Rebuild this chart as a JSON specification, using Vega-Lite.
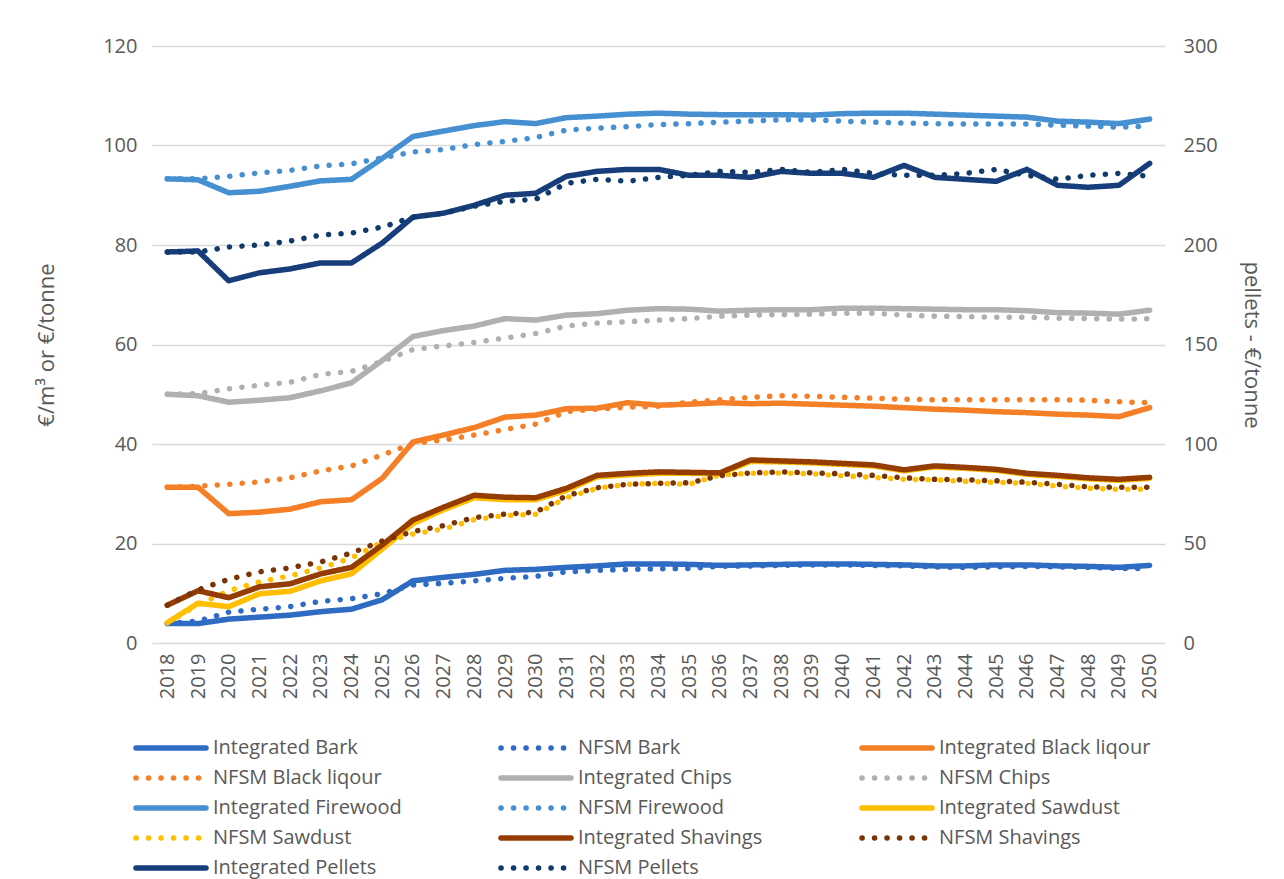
{
  "$schema": "https://vega.github.io/schema/vega-lite/v6.json",
  "autosize": {"type": "none"},
  "width": 1013,
  "height": 597,
  "padding": {"left": 152, "top": 46, "right": 119, "bottom": 236},
  "background": "white",
  "config": {"font": "Open Sans", "view": {"stroke": null}},
  "datasets": {
    "prices": [
      {"year":2018,"series":"Integrated Bark","value":3.9},{"year":2019,"series":"Integrated Bark","value":3.9},{"year":2020,"series":"Integrated Bark","value":4.8},{"year":2021,"series":"Integrated Bark","value":5.2},{"year":2022,"series":"Integrated Bark","value":5.6},{"year":2023,"series":"Integrated Bark","value":6.3},{"year":2024,"series":"Integrated Bark","value":6.8},{"year":2025,"series":"Integrated Bark","value":8.7},{"year":2026,"series":"Integrated Bark","value":12.5},{"year":2027,"series":"Integrated Bark","value":13.2},{"year":2028,"series":"Integrated Bark","value":13.8},{"year":2029,"series":"Integrated Bark","value":14.6},{"year":2030,"series":"Integrated Bark","value":14.8},{"year":2031,"series":"Integrated Bark","value":15.2},{"year":2032,"series":"Integrated Bark","value":15.5},{"year":2033,"series":"Integrated Bark","value":15.9},{"year":2034,"series":"Integrated Bark","value":15.9},{"year":2035,"series":"Integrated Bark","value":15.8},{"year":2036,"series":"Integrated Bark","value":15.6},{"year":2037,"series":"Integrated Bark","value":15.7},{"year":2038,"series":"Integrated Bark","value":15.8},{"year":2039,"series":"Integrated Bark","value":15.9},{"year":2040,"series":"Integrated Bark","value":15.9},{"year":2041,"series":"Integrated Bark","value":15.8},{"year":2042,"series":"Integrated Bark","value":15.7},{"year":2043,"series":"Integrated Bark","value":15.5},{"year":2044,"series":"Integrated Bark","value":15.5},{"year":2045,"series":"Integrated Bark","value":15.7},{"year":2046,"series":"Integrated Bark","value":15.7},{"year":2047,"series":"Integrated Bark","value":15.5},{"year":2048,"series":"Integrated Bark","value":15.4},{"year":2049,"series":"Integrated Bark","value":15.2},{"year":2050,"series":"Integrated Bark","value":15.6},
      {"year":2018,"series":"NFSM Bark","value":3.9},{"year":2019,"series":"NFSM Bark","value":4.4},{"year":2020,"series":"NFSM Bark","value":6.2},{"year":2021,"series":"NFSM Bark","value":6.8},{"year":2022,"series":"NFSM Bark","value":7.3},{"year":2023,"series":"NFSM Bark","value":8.4},{"year":2024,"series":"NFSM Bark","value":8.9},{"year":2025,"series":"NFSM Bark","value":9.9},{"year":2026,"series":"NFSM Bark","value":11.7},{"year":2027,"series":"NFSM Bark","value":12.0},{"year":2028,"series":"NFSM Bark","value":12.5},{"year":2029,"series":"NFSM Bark","value":13.0},{"year":2030,"series":"NFSM Bark","value":13.4},{"year":2031,"series":"NFSM Bark","value":14.3},{"year":2032,"series":"NFSM Bark","value":14.6},{"year":2033,"series":"NFSM Bark","value":14.8},{"year":2034,"series":"NFSM Bark","value":14.9},{"year":2035,"series":"NFSM Bark","value":15.0},{"year":2036,"series":"NFSM Bark","value":15.4},{"year":2037,"series":"NFSM Bark","value":15.5},{"year":2038,"series":"NFSM Bark","value":15.6},{"year":2039,"series":"NFSM Bark","value":15.7},{"year":2040,"series":"NFSM Bark","value":15.7},{"year":2041,"series":"NFSM Bark","value":15.6},{"year":2042,"series":"NFSM Bark","value":15.5},{"year":2043,"series":"NFSM Bark","value":15.3},{"year":2044,"series":"NFSM Bark","value":15.2},{"year":2045,"series":"NFSM Bark","value":15.3},{"year":2046,"series":"NFSM Bark","value":15.4},{"year":2047,"series":"NFSM Bark","value":15.3},{"year":2048,"series":"NFSM Bark","value":15.2},{"year":2049,"series":"NFSM Bark","value":15.0},{"year":2050,"series":"NFSM Bark","value":15.0},
      {"year":2018,"series":"Integrated Black liqour","value":31.3},{"year":2019,"series":"Integrated Black liqour","value":31.3},{"year":2020,"series":"Integrated Black liqour","value":26.0},{"year":2021,"series":"Integrated Black liqour","value":26.3},{"year":2022,"series":"Integrated Black liqour","value":26.9},{"year":2023,"series":"Integrated Black liqour","value":28.4},{"year":2024,"series":"Integrated Black liqour","value":28.8},{"year":2025,"series":"Integrated Black liqour","value":33.1},{"year":2026,"series":"Integrated Black liqour","value":40.4},{"year":2027,"series":"Integrated Black liqour","value":41.8},{"year":2028,"series":"Integrated Black liqour","value":43.3},{"year":2029,"series":"Integrated Black liqour","value":45.4},{"year":2030,"series":"Integrated Black liqour","value":45.8},{"year":2031,"series":"Integrated Black liqour","value":47.1},{"year":2032,"series":"Integrated Black liqour","value":47.2},{"year":2033,"series":"Integrated Black liqour","value":48.3},{"year":2034,"series":"Integrated Black liqour","value":47.8},{"year":2035,"series":"Integrated Black liqour","value":48.0},{"year":2036,"series":"Integrated Black liqour","value":48.3},{"year":2037,"series":"Integrated Black liqour","value":48.1},{"year":2038,"series":"Integrated Black liqour","value":48.2},{"year":2039,"series":"Integrated Black liqour","value":48.0},{"year":2040,"series":"Integrated Black liqour","value":47.8},{"year":2041,"series":"Integrated Black liqour","value":47.6},{"year":2042,"series":"Integrated Black liqour","value":47.3},{"year":2043,"series":"Integrated Black liqour","value":47.0},{"year":2044,"series":"Integrated Black liqour","value":46.8},{"year":2045,"series":"Integrated Black liqour","value":46.5},{"year":2046,"series":"Integrated Black liqour","value":46.3},{"year":2047,"series":"Integrated Black liqour","value":46.0},{"year":2048,"series":"Integrated Black liqour","value":45.8},{"year":2049,"series":"Integrated Black liqour","value":45.5},{"year":2050,"series":"Integrated Black liqour","value":47.3},
      {"year":2018,"series":"NFSM Black liqour","value":31.3},{"year":2019,"series":"NFSM Black liqour","value":31.5},{"year":2020,"series":"NFSM Black liqour","value":31.9},{"year":2021,"series":"NFSM Black liqour","value":32.4},{"year":2022,"series":"NFSM Black liqour","value":33.2},{"year":2023,"series":"NFSM Black liqour","value":34.6},{"year":2024,"series":"NFSM Black liqour","value":35.6},{"year":2025,"series":"NFSM Black liqour","value":37.8},{"year":2026,"series":"NFSM Black liqour","value":40.1},{"year":2027,"series":"NFSM Black liqour","value":40.8},{"year":2028,"series":"NFSM Black liqour","value":41.8},{"year":2029,"series":"NFSM Black liqour","value":42.9},{"year":2030,"series":"NFSM Black liqour","value":44.0},{"year":2031,"series":"NFSM Black liqour","value":46.5},{"year":2032,"series":"NFSM Black liqour","value":47.0},{"year":2033,"series":"NFSM Black liqour","value":47.4},{"year":2034,"series":"NFSM Black liqour","value":47.6},{"year":2035,"series":"NFSM Black liqour","value":48.4},{"year":2036,"series":"NFSM Black liqour","value":48.9},{"year":2037,"series":"NFSM Black liqour","value":49.4},{"year":2038,"series":"NFSM Black liqour","value":49.7},{"year":2039,"series":"NFSM Black liqour","value":49.6},{"year":2040,"series":"NFSM Black liqour","value":49.4},{"year":2041,"series":"NFSM Black liqour","value":49.2},{"year":2042,"series":"NFSM Black liqour","value":49.0},{"year":2043,"series":"NFSM Black liqour","value":48.9},{"year":2044,"series":"NFSM Black liqour","value":48.9},{"year":2045,"series":"NFSM Black liqour","value":48.9},{"year":2046,"series":"NFSM Black liqour","value":48.9},{"year":2047,"series":"NFSM Black liqour","value":48.9},{"year":2048,"series":"NFSM Black liqour","value":48.8},{"year":2049,"series":"NFSM Black liqour","value":48.5},{"year":2050,"series":"NFSM Black liqour","value":48.3},
      {"year":2018,"series":"Integrated Chips","value":50.0},{"year":2019,"series":"Integrated Chips","value":49.7},{"year":2020,"series":"Integrated Chips","value":48.4},{"year":2021,"series":"Integrated Chips","value":48.8},{"year":2022,"series":"Integrated Chips","value":49.3},{"year":2023,"series":"Integrated Chips","value":50.7},{"year":2024,"series":"Integrated Chips","value":52.3},{"year":2025,"series":"Integrated Chips","value":56.8},{"year":2026,"series":"Integrated Chips","value":61.6},{"year":2027,"series":"Integrated Chips","value":62.8},{"year":2028,"series":"Integrated Chips","value":63.7},{"year":2029,"series":"Integrated Chips","value":65.2},{"year":2030,"series":"Integrated Chips","value":64.9},{"year":2031,"series":"Integrated Chips","value":65.9},{"year":2032,"series":"Integrated Chips","value":66.2},{"year":2033,"series":"Integrated Chips","value":66.9},{"year":2034,"series":"Integrated Chips","value":67.2},{"year":2035,"series":"Integrated Chips","value":67.1},{"year":2036,"series":"Integrated Chips","value":66.7},{"year":2037,"series":"Integrated Chips","value":66.9},{"year":2038,"series":"Integrated Chips","value":67.0},{"year":2039,"series":"Integrated Chips","value":67.0},{"year":2040,"series":"Integrated Chips","value":67.3},{"year":2041,"series":"Integrated Chips","value":67.3},{"year":2042,"series":"Integrated Chips","value":67.2},{"year":2043,"series":"Integrated Chips","value":67.1},{"year":2044,"series":"Integrated Chips","value":67.0},{"year":2045,"series":"Integrated Chips","value":67.0},{"year":2046,"series":"Integrated Chips","value":66.8},{"year":2047,"series":"Integrated Chips","value":66.4},{"year":2048,"series":"Integrated Chips","value":66.3},{"year":2049,"series":"Integrated Chips","value":66.1},{"year":2050,"series":"Integrated Chips","value":66.9},
      {"year":2018,"series":"NFSM Chips","value":50.0},{"year":2019,"series":"NFSM Chips","value":50.1},{"year":2020,"series":"NFSM Chips","value":51.1},{"year":2021,"series":"NFSM Chips","value":51.8},{"year":2022,"series":"NFSM Chips","value":52.4},{"year":2023,"series":"NFSM Chips","value":54.0},{"year":2024,"series":"NFSM Chips","value":54.6},{"year":2025,"series":"NFSM Chips","value":56.6},{"year":2026,"series":"NFSM Chips","value":59.0},{"year":2027,"series":"NFSM Chips","value":59.7},{"year":2028,"series":"NFSM Chips","value":60.4},{"year":2029,"series":"NFSM Chips","value":61.3},{"year":2030,"series":"NFSM Chips","value":62.2},{"year":2031,"series":"NFSM Chips","value":63.7},{"year":2032,"series":"NFSM Chips","value":64.3},{"year":2033,"series":"NFSM Chips","value":64.6},{"year":2034,"series":"NFSM Chips","value":64.9},{"year":2035,"series":"NFSM Chips","value":65.2},{"year":2036,"series":"NFSM Chips","value":65.7},{"year":2037,"series":"NFSM Chips","value":65.9},{"year":2038,"series":"NFSM Chips","value":66.0},{"year":2039,"series":"NFSM Chips","value":66.1},{"year":2040,"series":"NFSM Chips","value":66.3},{"year":2041,"series":"NFSM Chips","value":66.3},{"year":2042,"series":"NFSM Chips","value":65.9},{"year":2043,"series":"NFSM Chips","value":65.7},{"year":2044,"series":"NFSM Chips","value":65.6},{"year":2045,"series":"NFSM Chips","value":65.5},{"year":2046,"series":"NFSM Chips","value":65.5},{"year":2047,"series":"NFSM Chips","value":65.3},{"year":2048,"series":"NFSM Chips","value":65.2},{"year":2049,"series":"NFSM Chips","value":65.1},{"year":2050,"series":"NFSM Chips","value":65.2},
      {"year":2018,"series":"Integrated Firewood","value":93.3},{"year":2019,"series":"Integrated Firewood","value":93.1},{"year":2020,"series":"Integrated Firewood","value":90.5},{"year":2021,"series":"Integrated Firewood","value":90.8},{"year":2022,"series":"Integrated Firewood","value":91.8},{"year":2023,"series":"Integrated Firewood","value":92.9},{"year":2024,"series":"Integrated Firewood","value":93.2},{"year":2025,"series":"Integrated Firewood","value":97.4},{"year":2026,"series":"Integrated Firewood","value":101.8},{"year":2027,"series":"Integrated Firewood","value":102.9},{"year":2028,"series":"Integrated Firewood","value":104.0},{"year":2029,"series":"Integrated Firewood","value":104.8},{"year":2030,"series":"Integrated Firewood","value":104.4},{"year":2031,"series":"Integrated Firewood","value":105.6},{"year":2032,"series":"Integrated Firewood","value":105.9},{"year":2033,"series":"Integrated Firewood","value":106.3},{"year":2034,"series":"Integrated Firewood","value":106.5},{"year":2035,"series":"Integrated Firewood","value":106.3},{"year":2036,"series":"Integrated Firewood","value":106.2},{"year":2037,"series":"Integrated Firewood","value":106.2},{"year":2038,"series":"Integrated Firewood","value":106.2},{"year":2039,"series":"Integrated Firewood","value":106.1},{"year":2040,"series":"Integrated Firewood","value":106.4},{"year":2041,"series":"Integrated Firewood","value":106.5},{"year":2042,"series":"Integrated Firewood","value":106.5},{"year":2043,"series":"Integrated Firewood","value":106.3},{"year":2044,"series":"Integrated Firewood","value":106.1},{"year":2045,"series":"Integrated Firewood","value":105.9},{"year":2046,"series":"Integrated Firewood","value":105.7},{"year":2047,"series":"Integrated Firewood","value":104.9},{"year":2048,"series":"Integrated Firewood","value":104.7},{"year":2049,"series":"Integrated Firewood","value":104.4},{"year":2050,"series":"Integrated Firewood","value":105.3},
      {"year":2018,"series":"NFSM Firewood","value":93.3},{"year":2019,"series":"NFSM Firewood","value":93.3},{"year":2020,"series":"NFSM Firewood","value":93.8},{"year":2021,"series":"NFSM Firewood","value":94.5},{"year":2022,"series":"NFSM Firewood","value":95.0},{"year":2023,"series":"NFSM Firewood","value":95.9},{"year":2024,"series":"NFSM Firewood","value":96.3},{"year":2025,"series":"NFSM Firewood","value":97.5},{"year":2026,"series":"NFSM Firewood","value":98.7},{"year":2027,"series":"NFSM Firewood","value":99.2},{"year":2028,"series":"NFSM Firewood","value":100.2},{"year":2029,"series":"NFSM Firewood","value":100.8},{"year":2030,"series":"NFSM Firewood","value":101.6},{"year":2031,"series":"NFSM Firewood","value":103.1},{"year":2032,"series":"NFSM Firewood","value":103.5},{"year":2033,"series":"NFSM Firewood","value":103.8},{"year":2034,"series":"NFSM Firewood","value":104.2},{"year":2035,"series":"NFSM Firewood","value":104.4},{"year":2036,"series":"NFSM Firewood","value":104.7},{"year":2037,"series":"NFSM Firewood","value":104.9},{"year":2038,"series":"NFSM Firewood","value":105.2},{"year":2039,"series":"NFSM Firewood","value":105.2},{"year":2040,"series":"NFSM Firewood","value":104.9},{"year":2041,"series":"NFSM Firewood","value":104.7},{"year":2042,"series":"NFSM Firewood","value":104.5},{"year":2043,"series":"NFSM Firewood","value":104.4},{"year":2044,"series":"NFSM Firewood","value":104.3},{"year":2045,"series":"NFSM Firewood","value":104.3},{"year":2046,"series":"NFSM Firewood","value":104.3},{"year":2047,"series":"NFSM Firewood","value":104.1},{"year":2048,"series":"NFSM Firewood","value":103.9},{"year":2049,"series":"NFSM Firewood","value":103.7},{"year":2050,"series":"NFSM Firewood","value":103.9},
      {"year":2018,"series":"Integrated Sawdust","value":4.1},{"year":2019,"series":"Integrated Sawdust","value":8.0},{"year":2020,"series":"Integrated Sawdust","value":7.3},{"year":2021,"series":"Integrated Sawdust","value":9.9},{"year":2022,"series":"Integrated Sawdust","value":10.4},{"year":2023,"series":"Integrated Sawdust","value":12.5},{"year":2024,"series":"Integrated Sawdust","value":13.9},{"year":2025,"series":"Integrated Sawdust","value":18.9},{"year":2026,"series":"Integrated Sawdust","value":24.0},{"year":2027,"series":"Integrated Sawdust","value":26.8},{"year":2028,"series":"Integrated Sawdust","value":29.2},{"year":2029,"series":"Integrated Sawdust","value":28.8},{"year":2030,"series":"Integrated Sawdust","value":28.8},{"year":2031,"series":"Integrated Sawdust","value":30.7},{"year":2032,"series":"Integrated Sawdust","value":33.4},{"year":2033,"series":"Integrated Sawdust","value":33.8},{"year":2034,"series":"Integrated Sawdust","value":34.1},{"year":2035,"series":"Integrated Sawdust","value":34.1},{"year":2036,"series":"Integrated Sawdust","value":34.0},{"year":2037,"series":"Integrated Sawdust","value":36.5},{"year":2038,"series":"Integrated Sawdust","value":36.4},{"year":2039,"series":"Integrated Sawdust","value":36.2},{"year":2040,"series":"Integrated Sawdust","value":35.9},{"year":2041,"series":"Integrated Sawdust","value":35.6},{"year":2042,"series":"Integrated Sawdust","value":34.6},{"year":2043,"series":"Integrated Sawdust","value":35.4},{"year":2044,"series":"Integrated Sawdust","value":35.1},{"year":2045,"series":"Integrated Sawdust","value":34.7},{"year":2046,"series":"Integrated Sawdust","value":33.9},{"year":2047,"series":"Integrated Sawdust","value":33.5},{"year":2048,"series":"Integrated Sawdust","value":33.0},{"year":2049,"series":"Integrated Sawdust","value":32.7},{"year":2050,"series":"Integrated Sawdust","value":33.1},
      {"year":2018,"series":"NFSM Sawdust","value":4.1},{"year":2019,"series":"NFSM Sawdust","value":7.7},{"year":2020,"series":"NFSM Sawdust","value":10.5},{"year":2021,"series":"NFSM Sawdust","value":12.3},{"year":2022,"series":"NFSM Sawdust","value":13.5},{"year":2023,"series":"NFSM Sawdust","value":15.1},{"year":2024,"series":"NFSM Sawdust","value":17.1},{"year":2025,"series":"NFSM Sawdust","value":20.3},{"year":2026,"series":"NFSM Sawdust","value":21.9},{"year":2027,"series":"NFSM Sawdust","value":22.9},{"year":2028,"series":"NFSM Sawdust","value":24.8},{"year":2029,"series":"NFSM Sawdust","value":25.6},{"year":2030,"series":"NFSM Sawdust","value":25.9},{"year":2031,"series":"NFSM Sawdust","value":29.2},{"year":2032,"series":"NFSM Sawdust","value":31.1},{"year":2033,"series":"NFSM Sawdust","value":31.9},{"year":2034,"series":"NFSM Sawdust","value":32.1},{"year":2035,"series":"NFSM Sawdust","value":31.9},{"year":2036,"series":"NFSM Sawdust","value":33.8},{"year":2037,"series":"NFSM Sawdust","value":34.1},{"year":2038,"series":"NFSM Sawdust","value":34.2},{"year":2039,"series":"NFSM Sawdust","value":34.0},{"year":2040,"series":"NFSM Sawdust","value":33.6},{"year":2041,"series":"NFSM Sawdust","value":33.3},{"year":2042,"series":"NFSM Sawdust","value":32.9},{"year":2043,"series":"NFSM Sawdust","value":32.8},{"year":2044,"series":"NFSM Sawdust","value":32.5},{"year":2045,"series":"NFSM Sawdust","value":32.3},{"year":2046,"series":"NFSM Sawdust","value":32.1},{"year":2047,"series":"NFSM Sawdust","value":31.5},{"year":2048,"series":"NFSM Sawdust","value":31.1},{"year":2049,"series":"NFSM Sawdust","value":30.9},{"year":2050,"series":"NFSM Sawdust","value":30.9},
      {"year":2018,"series":"Integrated Shavings","value":7.6},{"year":2019,"series":"Integrated Shavings","value":10.5},{"year":2020,"series":"Integrated Shavings","value":9.1},{"year":2021,"series":"Integrated Shavings","value":11.3},{"year":2022,"series":"Integrated Shavings","value":11.9},{"year":2023,"series":"Integrated Shavings","value":13.9},{"year":2024,"series":"Integrated Shavings","value":15.2},{"year":2025,"series":"Integrated Shavings","value":19.7},{"year":2026,"series":"Integrated Shavings","value":24.7},{"year":2027,"series":"Integrated Shavings","value":27.3},{"year":2028,"series":"Integrated Shavings","value":29.7},{"year":2029,"series":"Integrated Shavings","value":29.3},{"year":2030,"series":"Integrated Shavings","value":29.2},{"year":2031,"series":"Integrated Shavings","value":31.1},{"year":2032,"series":"Integrated Shavings","value":33.7},{"year":2033,"series":"Integrated Shavings","value":34.1},{"year":2034,"series":"Integrated Shavings","value":34.4},{"year":2035,"series":"Integrated Shavings","value":34.3},{"year":2036,"series":"Integrated Shavings","value":34.2},{"year":2037,"series":"Integrated Shavings","value":36.8},{"year":2038,"series":"Integrated Shavings","value":36.6},{"year":2039,"series":"Integrated Shavings","value":36.4},{"year":2040,"series":"Integrated Shavings","value":36.1},{"year":2041,"series":"Integrated Shavings","value":35.8},{"year":2042,"series":"Integrated Shavings","value":34.8},{"year":2043,"series":"Integrated Shavings","value":35.6},{"year":2044,"series":"Integrated Shavings","value":35.3},{"year":2045,"series":"Integrated Shavings","value":34.9},{"year":2046,"series":"Integrated Shavings","value":34.1},{"year":2047,"series":"Integrated Shavings","value":33.7},{"year":2048,"series":"Integrated Shavings","value":33.2},{"year":2049,"series":"Integrated Shavings","value":32.9},{"year":2050,"series":"Integrated Shavings","value":33.3},
      {"year":2018,"series":"NFSM Shavings","value":7.6},{"year":2019,"series":"NFSM Shavings","value":10.7},{"year":2020,"series":"NFSM Shavings","value":12.8},{"year":2021,"series":"NFSM Shavings","value":14.3},{"year":2022,"series":"NFSM Shavings","value":15.1},{"year":2023,"series":"NFSM Shavings","value":16.3},{"year":2024,"series":"NFSM Shavings","value":18.1},{"year":2025,"series":"NFSM Shavings","value":20.5},{"year":2026,"series":"NFSM Shavings","value":22.4},{"year":2027,"series":"NFSM Shavings","value":23.6},{"year":2028,"series":"NFSM Shavings","value":25.2},{"year":2029,"series":"NFSM Shavings","value":25.9},{"year":2030,"series":"NFSM Shavings","value":26.3},{"year":2031,"series":"NFSM Shavings","value":29.6},{"year":2032,"series":"NFSM Shavings","value":31.2},{"year":2033,"series":"NFSM Shavings","value":31.9},{"year":2034,"series":"NFSM Shavings","value":32.1},{"year":2035,"series":"NFSM Shavings","value":32.2},{"year":2036,"series":"NFSM Shavings","value":33.6},{"year":2037,"series":"NFSM Shavings","value":34.2},{"year":2038,"series":"NFSM Shavings","value":34.4},{"year":2039,"series":"NFSM Shavings","value":34.2},{"year":2040,"series":"NFSM Shavings","value":34.0},{"year":2041,"series":"NFSM Shavings","value":33.7},{"year":2042,"series":"NFSM Shavings","value":33.2},{"year":2043,"series":"NFSM Shavings","value":32.9},{"year":2044,"series":"NFSM Shavings","value":32.8},{"year":2045,"series":"NFSM Shavings","value":32.6},{"year":2046,"series":"NFSM Shavings","value":32.3},{"year":2047,"series":"NFSM Shavings","value":31.9},{"year":2048,"series":"NFSM Shavings","value":31.4},{"year":2049,"series":"NFSM Shavings","value":31.3},{"year":2050,"series":"NFSM Shavings","value":31.3},
      {"year":2018,"series":"Integrated Pellets","value":196.5},{"year":2019,"series":"Integrated Pellets","value":197},{"year":2020,"series":"Integrated Pellets","value":182},{"year":2021,"series":"Integrated Pellets","value":186},{"year":2022,"series":"Integrated Pellets","value":188},{"year":2023,"series":"Integrated Pellets","value":191},{"year":2024,"series":"Integrated Pellets","value":191},{"year":2025,"series":"Integrated Pellets","value":201},{"year":2026,"series":"Integrated Pellets","value":214},{"year":2027,"series":"Integrated Pellets","value":216},{"year":2028,"series":"Integrated Pellets","value":220},{"year":2029,"series":"Integrated Pellets","value":225},{"year":2030,"series":"Integrated Pellets","value":226},{"year":2031,"series":"Integrated Pellets","value":234.5},{"year":2032,"series":"Integrated Pellets","value":237},{"year":2033,"series":"Integrated Pellets","value":238},{"year":2034,"series":"Integrated Pellets","value":238},{"year":2035,"series":"Integrated Pellets","value":235},{"year":2036,"series":"Integrated Pellets","value":235},{"year":2037,"series":"Integrated Pellets","value":234},{"year":2038,"series":"Integrated Pellets","value":237},{"year":2039,"series":"Integrated Pellets","value":236},{"year":2040,"series":"Integrated Pellets","value":236},{"year":2041,"series":"Integrated Pellets","value":234},{"year":2042,"series":"Integrated Pellets","value":240},{"year":2043,"series":"Integrated Pellets","value":234},{"year":2044,"series":"Integrated Pellets","value":233},{"year":2045,"series":"Integrated Pellets","value":232},{"year":2046,"series":"Integrated Pellets","value":238},{"year":2047,"series":"Integrated Pellets","value":230},{"year":2048,"series":"Integrated Pellets","value":229},{"year":2049,"series":"Integrated Pellets","value":230},{"year":2050,"series":"Integrated Pellets","value":241},
      {"year":2018,"series":"NFSM Pellets","value":196.5},{"year":2019,"series":"NFSM Pellets","value":196.5},{"year":2020,"series":"NFSM Pellets","value":199},{"year":2021,"series":"NFSM Pellets","value":200},{"year":2022,"series":"NFSM Pellets","value":202},{"year":2023,"series":"NFSM Pellets","value":205},{"year":2024,"series":"NFSM Pellets","value":206},{"year":2025,"series":"NFSM Pellets","value":209},{"year":2026,"series":"NFSM Pellets","value":214},{"year":2027,"series":"NFSM Pellets","value":216},{"year":2028,"series":"NFSM Pellets","value":219.5},{"year":2029,"series":"NFSM Pellets","value":222},{"year":2030,"series":"NFSM Pellets","value":223},{"year":2031,"series":"NFSM Pellets","value":231},{"year":2032,"series":"NFSM Pellets","value":233},{"year":2033,"series":"NFSM Pellets","value":232},{"year":2034,"series":"NFSM Pellets","value":234},{"year":2035,"series":"NFSM Pellets","value":235},{"year":2036,"series":"NFSM Pellets","value":237},{"year":2037,"series":"NFSM Pellets","value":236.5},{"year":2038,"series":"NFSM Pellets","value":238},{"year":2039,"series":"NFSM Pellets","value":236.5},{"year":2040,"series":"NFSM Pellets","value":238},{"year":2041,"series":"NFSM Pellets","value":236},{"year":2042,"series":"NFSM Pellets","value":235},{"year":2043,"series":"NFSM Pellets","value":235},{"year":2044,"series":"NFSM Pellets","value":236},{"year":2045,"series":"NFSM Pellets","value":238},{"year":2046,"series":"NFSM Pellets","value":235},{"year":2047,"series":"NFSM Pellets","value":233},{"year":2048,"series":"NFSM Pellets","value":235},{"year":2049,"series":"NFSM Pellets","value":236},{"year":2050,"series":"NFSM Pellets","value":234.5}
    ]
  },
  "data": {"name": "prices"},
  "encoding": {
    "x": {
      "field": "year", "type": "ordinal",
      "scale": {"type": "point", "padding": 0.5},
      "axis": {"title": null, "labelAngle": 270, "domain": false, "ticks": false, "labelFontSize": 20, "labelColor": "#595959", "labelPadding": 10}
    },
    "color": {
      "field": "series", "type": "nominal",
      "scale": {
        "domain": ["Integrated Bark","NFSM Bark","Integrated Black liqour","NFSM Black liqour","Integrated Chips","NFSM Chips","Integrated Firewood","NFSM Firewood","Integrated Sawdust","NFSM Sawdust","Integrated Shavings","NFSM Shavings","Integrated Pellets","NFSM Pellets"],
        "range": ["#2e6bc2","#2e6bc2","#f47f26","#f47f26","#b0b0b0","#b0b0b0","#4690d2","#4690d2","#ffbf00","#ffbf00","#953c02","#7a3306","#173d7a","#0f3a6c"]
      },
      "legend": {
        "title": null, "orient": "none", "legendX": -19, "legendY": 689, "direction": "horizontal", "columns": 3,
        "columnPadding": 88, "rowPadding": 6, "gridAlign": "each", "padding": 0,
        "symbolType": "M-1,0H6", "symbolSize": 400, "symbolStrokeWidth": 5.5,
        "labelFontSize": 20, "labelColor": "#595959", "labelOffset": 54, "labelLimit": 400, "symbolLimit": 0,
        "encode": {"symbols": {"update": {"strokeCap": {"value": "round"}}}}
      }
    },
    "strokeDash": {
      "field": "series", "type": "nominal",
      "scale": {
        "domain": ["Integrated Bark","NFSM Bark","Integrated Black liqour","NFSM Black liqour","Integrated Chips","NFSM Chips","Integrated Firewood","NFSM Firewood","Integrated Sawdust","NFSM Sawdust","Integrated Shavings","NFSM Shavings","Integrated Pellets","NFSM Pellets"],
        "range": [[1,0],[0.1,12.4],[1,0],[0.1,12.4],[1,0],[0.1,12.4],[1,0],[0.1,12.4],[1,0],[0.1,12.4],[1,0],[0.1,12.4],[1,0],[0.1,12.4]]
      },
      "legend": {
        "title": null, "orient": "none", "legendX": -19, "legendY": 689, "direction": "horizontal", "columns": 3,
        "columnPadding": 88, "rowPadding": 6, "gridAlign": "each", "padding": 0,
        "symbolType": "M-1,0H6", "symbolSize": 400, "symbolStrokeWidth": 5.5,
        "labelFontSize": 20, "labelColor": "#595959", "labelOffset": 54, "labelLimit": 400, "symbolLimit": 0,
        "encode": {"symbols": {"update": {"strokeCap": {"value": "round"}}}}
      }
    }
  },
  "layer": [
    {
      "transform": [{"filter": "indexof(datum.series, 'Pellets') < 0"}],
      "mark": {"type": "line", "strokeWidth": 5.5, "strokeCap": "round", "strokeJoin": "round"},
      "encoding": {
        "y": {
          "field": "value", "type": "quantitative",
          "scale": {"domain": [0, 120], "nice": false},
          "axis": {"values": [0,20,40,60,80,100,120], "grid": true, "gridColor": "#d9d9d9", "gridWidth": 1.5, "domain": false, "ticks": false,
                   "labelFontSize": 20, "labelColor": "#595959", "labelPadding": 15,
                   "title": "€/m³ or €/tonne", "titleFontSize": 22, "titleFontWeight": "normal", "titleColor": "#595959", "titlePadding": 44}
        }
      }
    },
    {
      "transform": [{"filter": "indexof(datum.series, 'Pellets') >= 0"}],
      "mark": {"type": "line", "strokeWidth": 5.5, "strokeCap": "round", "strokeJoin": "round"},
      "encoding": {
        "y": {
          "field": "value", "type": "quantitative",
          "scale": {"domain": [0, 300], "nice": false},
          "axis": {"orient": "right", "values": [0,50,100,150,200,250,300], "grid": false, "domain": false, "ticks": false,
                   "labelFontSize": 20, "labelColor": "#595959", "labelPadding": 18,
                   "title": "pellets - €/tonne", "titleFontSize": 22, "titleFontWeight": "normal", "titleColor": "#595959", "titlePadding": 22}
        }
      }
    }
  ],
  "resolve": {"scale": {"y": "independent"}}
}
